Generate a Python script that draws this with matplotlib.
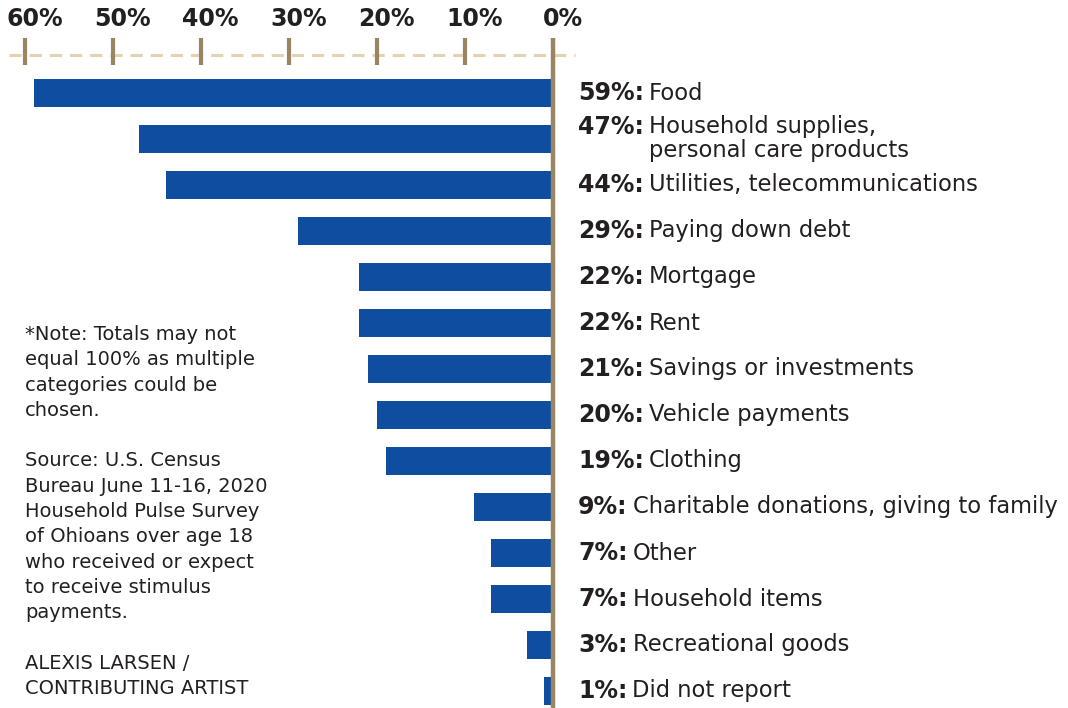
import matplotlib
matplotlib.use("Agg")
import matplotlib.pyplot as plt
import matplotlib.transforms as mtransforms

# Data
categories = [
    "Food",
    "Household supplies,\npersonal care products",
    "Utilities, telecommunications",
    "Paying down debt",
    "Mortgage",
    "Rent",
    "Savings or investments",
    "Vehicle payments",
    "Clothing",
    "Charitable donations, giving to family",
    "Other",
    "Household items",
    "Recreational goods",
    "Did not report",
]
values = [59, 47, 44, 29, 22, 22, 21, 20, 19, 9, 7, 7, 3, 1]
tick_values = [60, 50, 40, 30, 20, 10, 0]
tick_labels = ["60%", "50%", "40%", "30%", "20%", "10%", "0%"]
note_text = ("*Note: Totals may not\nequal 100% as multiple\ncategories could be\nchosen.\n\n"
             "Source: U.S. Census\nBureau June 11-16, 2020\nHousehold Pulse Survey\n"
             "of Ohioans over age 18\nwho received or expect\nto receive stimulus\npayments.\n\n"
             "ALEXIS LARSEN /\nCONTRIBUTING ARTIST")

W, H = 1068, 708
BLUE = "#0e4d9f"
TAN = "#9a8462"
DASH = "#e3d3b1"
INK = "#231f20"
FONT = "DejaVu Sans"

# pixel layout
X0_PX = 553.0      # position of 0%
PX_PER_PCT = 8.8
ROW0_PX = 93.0
ROW_PX = 46.0

fig = plt.figure(figsize=(W / 100, H / 100), dpi=100)
ax = fig.add_axes([0, 0, 1, 1])
ax.set_xlim(X0_PX / PX_PER_PCT, -(W - X0_PX) / PX_PER_PCT)
ax.set_ylim((H - ROW0_PX) / ROW_PX, -ROW0_PX / ROW_PX)
ax.axis("off")

rows = list(range(len(values)))
ax.barh(rows, values, height=28 / ROW_PX, color=BLUE, zorder=2)

# header: dashed line, ticks and labels
def fy(px):
    return 1 - px / H

hdr = mtransforms.blended_transform_factory(ax.transData, fig.transFigure)
ax.plot([X0_PX / PX_PER_PCT - 1.0, -2.5], [fy(55), fy(55)], transform=hdr,
        color=DASH, lw=2.2, dashes=(4, 2.6), zorder=1)
for t, lab in zip(tick_values, tick_labels):
    if t != 0:
        ax.plot([t, t], [fy(38), fy(65)], transform=hdr, color=TAN, lw=3,
                solid_capstyle="butt", zorder=3)
    ax.text(t - 1.1, fy(19), lab, transform=hdr, ha="center", va="center",
            fontsize=17, fontweight="bold", family=FONT, color=INK)

# vertical axis line
ax.plot([0, 0], [fy(38), 0], transform=hdr, color=TAN, lw=3.2,
        solid_capstyle="butt", zorder=4)

# labels: bold percent, then regular category text
fig.canvas.draw()
renderer = fig.canvas.get_renderer()
label_x = -(578 - X0_PX) / PX_PER_PCT
for r, (cat, v) in enumerate(zip(categories, values)):
    lines = cat.split("\n")
    n = len(lines)
    for k, line in enumerate(lines):
        dy = (k - (n - 1) / 2) * 24.0 / ROW_PX
        if k == 0:
            b = ax.text(label_x, r + dy, f"{v}%:", ha="left", va="center",
                        fontsize=17, fontweight="bold", family=FONT, color=INK)
            bb = b.get_window_extent(renderer)
            inv = ax.transData.inverted()
            x_reg = inv.transform((bb.x1 + 5, 0))[0]
        ax.text(x_reg, r + dy, line, ha="left", va="center",
                fontsize=16.3, family=FONT, color=INK)

fig.text(25 / W, fy(325), note_text, ha="left", va="top", fontsize=14,
         family=FONT, color=INK, linespacing=1.42)

fig.savefig("out.png", dpi=100)
